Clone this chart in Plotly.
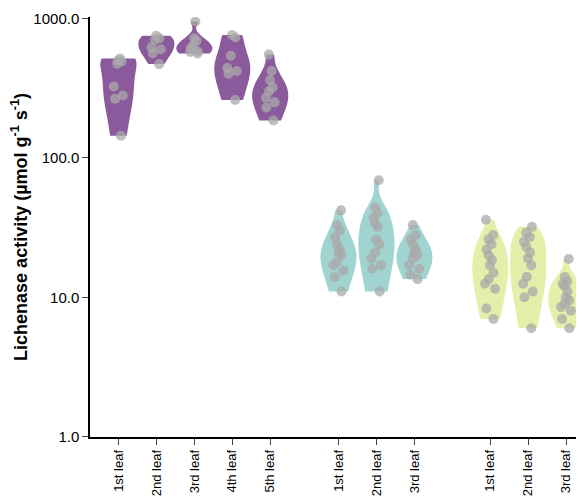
import plotly.graph_objects as go

labels = ["1st leaf","2nd leaf","3rd leaf","4th leaf","5th leaf",
          "1st leaf","2nd leaf","3rd leaf",
          "1st leaf","2nd leaf","3rd leaf"]
xpos = [0,1,2,3,4, 5.8,6.8,7.8, 9.8,10.8,11.8]
groups = [0,0,0,0,0,1,1,1,2,2,2]
colors = ["#8b5a9c", "#9fd4d0", "#e3f0aa"]

values = [
    [515, 500, 473, 490, 325, 265, 280, 144],
    [750, 720, 700, 620, 600, 560, 470],
    [950, 720, 690, 640, 610, 580, 560, 575],
    [760, 730, 540, 440, 420, 400, 260],
    [550, 420, 360, 320, 300, 270, 250, 230, 185],
    [42, 33, 30, 27, 24, 22, 21, 20, 18, 17, 15.5, 14, 11],
    [69, 44, 40, 37, 34, 32, 26, 24, 21, 19, 17, 16, 11],
    [33, 28, 26, 24, 22, 21, 20, 19, 17, 16, 14.5, 13.5],
    [36, 28, 26, 24, 22, 20, 18.5, 17, 15, 13.5, 12.5, 11.5, 8.3, 7],
    [32, 29, 27, 25, 23, 21, 19, 17, 14, 12.5, 11, 10, 6],
    [18.8, 14, 13, 12.5, 12, 11, 10, 9.5, 9, 8.5, 8, 7, 6],
]

fig = go.Figure()
for x, v, g in zip(xpos, values, groups):
    fig.add_trace(go.Violin(
        x=[x]*len(v), y=v, fillcolor=colors[g], line=dict(width=0),
        opacity=1, spanmode="hard", width=0.95, points="all", pointpos=0,
        jitter=0.35, marker=dict(color="rgba(170,170,170,0.75)", size=10),
        showlegend=False, hoverinfo="y"))

fig.update_layout(
    width=584, height=497, margin=dict(l=82, r=5, t=9, b=68),
    plot_bgcolor="white", paper_bgcolor="white",
    font=dict(family="Liberation Sans, Arial", color="black", size=14),
    violinmode="overlay")
fig.update_yaxes(type="log", range=[-0.002, 3.01],
                 tickmode="array", tickvals=[1, 10, 100, 1000],
                 ticktext=["1.0", "10.0", "100.0", "1000.0"],
                 tickfont=dict(size=15), automargin=False,
                 showline=True, linecolor="black", linewidth=1.5,
                 ticks="outside", ticklen=6, showgrid=False, zeroline=False,
                 title=dict(text="<b>Lichenase activity (µmol g<sup>-1</sup> s<sup>-1</sup>)</b>",
                            font=dict(size=18), standoff=4))
fig.update_xaxes(tickvals=xpos, ticktext=labels, tickangle=-90,
                 tickfont=dict(size=13),
                 range=[-0.75, 12.35], showline=True, linecolor="black",
                 linewidth=1.5, ticks="outside", ticklen=6, showgrid=False,
                 zeroline=False, automargin=False)
fig.write_html("out.html")
